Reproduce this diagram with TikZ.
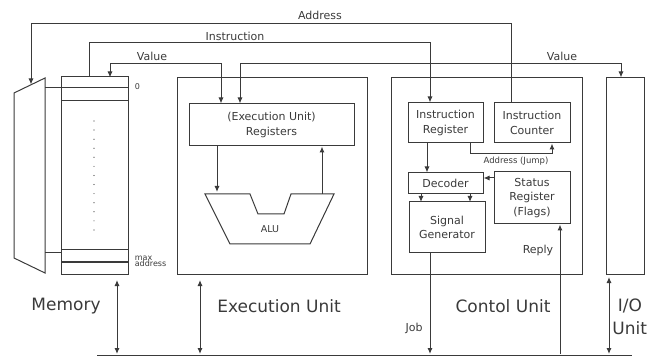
\documentclass[tikz,border=0pt]{standalone}
\usepackage{fontspec}
\setmainfont{DejaVu Sans}
\usetikzlibrary{arrows.meta}
\definecolor{ink}{HTML}{3A3A3A}
\begin{document}
\begin{tikzpicture}[x=1pt,y=-1pt,
  line width=1pt, draw=ink, text=ink,
  >={Latex[length=6pt,width=5pt]},
  box/.style={draw=ink, line width=1pt, rectangle, inner sep=0pt, align=center},
  big/.style={font=\fontsize{17}{20}\selectfont},
  mid/.style={font=\fontsize{11}{14.5}\selectfont, align=center},
  tiny/.style={font=\fontsize{8}{9}\selectfont}]
\useasboundingbox (0,0) rectangle (648,358);
% units
\node[box, minimum width=67pt, minimum height=197pt] (mem) at (94.5,175.5) {};
\node[box, minimum width=190pt, minimum height=196pt] (exu) at (272,176) {};
\node[box, minimum width=191pt, minimum height=196pt] (cu) at (486.5,176) {};
\node[box, minimum width=38pt, minimum height=196pt] (io) at (625,176) {};
% memory details
\draw (61,88) -- (128,88) (61,101) -- (128,101) (61,250) -- (128,250) (61,262) -- (128,262);
\foreach \i in {0,...,12} \fill[ink] (94,121+9.08*\i) circle (0.6pt);
\node[tiny, anchor=west] (zero) at (131,87) {0};
\node[tiny, anchor=west, align=left] (maxa) at (131,261.5) {max\\[-2.5pt]address};
% multiplexer
\draw (14,93) coordinate (muxtl) -- (45,78) coordinate (muxtr) -- (45,273) coordinate (muxbr) -- (14,258) coordinate (muxbl) -- cycle;
\coordinate (muxin) at (31,84.5);
\draw (45,88) -- (61,88);
\draw (45,253) -- (61,253);
% execution unit
\node[box, mid, minimum width=165pt, minimum height=42pt] (reg) at (271.5,125) {(Execution Unit)\\Registers};
\draw (205,194) -- (250,194) -- (258,214) -- (284,214) -- (291,194) -- (334,194) -- (310,244) -- (230,244) -- cycle;
\node[mid] (alu) at (270,229) {\fontsize{9.5}{11}\selectfont ALU};
\draw[->] (217,146) -- (217,192);
\draw[->] (322,194) -- (322,146.5);
% control unit
\node[box, mid, minimum width=75pt, minimum height=40pt] (ir) at (445.5,123) {Instruction\\Register};
\node[box, mid, minimum width=76pt, minimum height=40pt] (ic) at (532,123) {Instruction\\Counter};
\node[box, mid, minimum width=75pt, minimum height=21pt] (dec) at (445.5,183) {Decoder};
\node[box, mid, minimum width=76pt, minimum height=52pt] (sr) at (532,198) {Status\\Register\\(Flags)};
\node[box, mid, minimum width=76pt, minimum height=51pt] (sg) at (447,227.5) {Signal\\Generator};
\draw[->] (427,143) -- (427,172.5);
\draw[->] (470,143) -- (470,154) -- (552,154) -- (552,143.5);
\node[tiny, font=\fontsize{8.5}{10}\selectfont] (aj) at (516,161) {Address (Jump)};
\draw[->] (494,178) -- (483.5,178);
\draw[->] (421,193.5) -- (421,202);
\draw[->] (470,193.5) -- (470,202);
% bus
\coordinate (busl) at (97,355);
\coordinate (busr) at (632,355);
\draw (busl) -- (busr);
\draw[->] (430,253) -- (430,354);
\node[mid] (job) at (414,328) {Job};
\draw[->] (560,354) -- (560,224.5);
\node[mid] (reply) at (538,250) {Reply};
\draw[<->] (117,280) -- (117,354);
\draw[<->] (200,280) -- (200,354);
\draw[<->] (609,277) -- (609,354);
% top connectors
\draw[->] (ic.north -| 511,0) -- (511,24) -- (31,24) -- (muxin);
\node[mid] (addr) at (320,15) {Address};
\draw[->] (89,77) -- (89,43) -- (430,43) -- (430,102.5);
\node[mid] (instr) at (235,36) {Instruction};
\draw[<->] (110,77.5) -- (110,64) -- (221,64) -- (221,103.5);
\node[mid] (val1) at (152,56) {Value};
\draw[<->] (240,103.5) -- (240,64) -- (621,64) -- (621,77.5);
\node[mid] (val2) at (562,56) {Value};
% unit labels
\node[big] (lmem) at (66,306) {Memory};
\node[big] (lexu) at (279,306) {Execution Unit};
\node[big] (lcu) at (503,306) {Contol Unit};
\node[big] (lio1) at (630,306) {I/O};
\node[big, anchor=east, inner xsep=0.5pt] (lio2) at (648,328) {Unit};
\end{tikzpicture}
\end{document}
